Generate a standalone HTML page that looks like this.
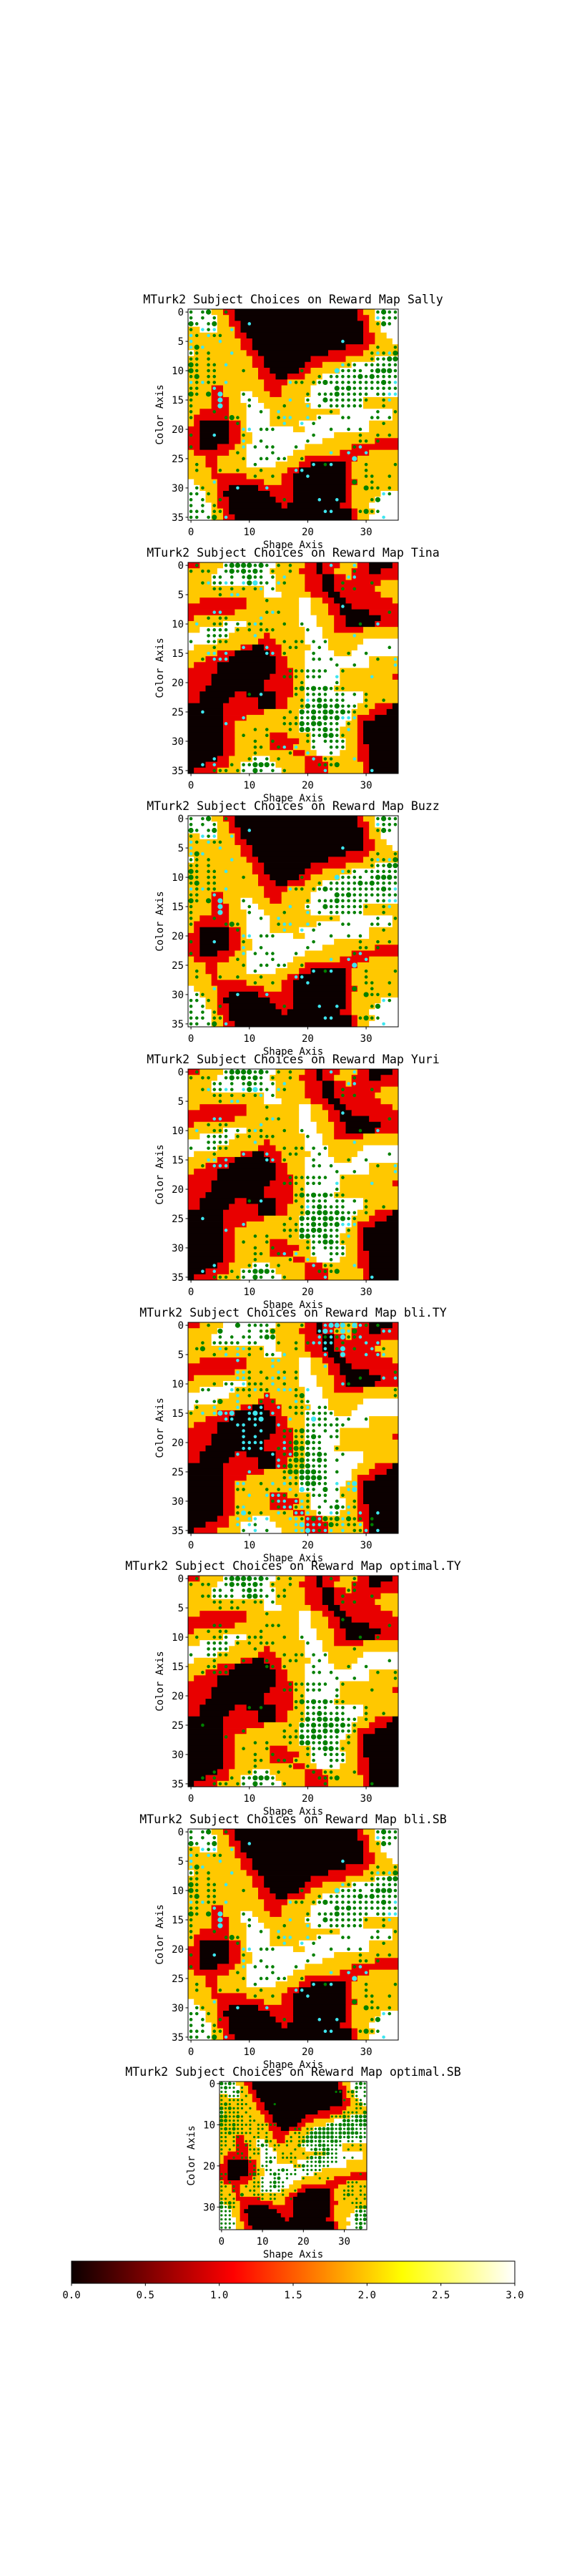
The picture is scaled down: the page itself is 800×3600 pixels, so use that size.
<!DOCTYPE html>
<html><head><meta charset="utf-8">
<style>
html,body{margin:0;padding:0;background:#fff;width:800px;height:3600px;overflow:hidden}
svg text{font-family:"DejaVu Sans Mono","Liberation Mono",monospace;fill:#000}
</style></head>
<body>
<svg id="fig" xmlns="http://www.w3.org/2000/svg" width="800" height="3600" viewBox="0 0 800 3600"></svg>
<script>
// ---------- data ----------
const mapA = ["W4O2R2K21R1O2W4","W5O2R1K21R2O1W4","W5O2R2K21R1O2W3","O2W3O3R1K21R1O2W3","O8R2K20R2O2W2","O9R2K19R2O3W1","O9R2K16R4O5","W1O9R2K12R6O6","O11R2K8R6O5W4","O11R2K7R3O5W8","O12R2K5R2O5W10","O12R3K2R3O3W13","O13R4O5W14","O4R2O7R3O5W15","O4R2O3W2O3R2O5W15","O4R3O2W3O8W10O6","O4R3O3W3O8W9O6","O2R5O3W4O12W9O1","O1R6O3W4O8W13O1","O1R1K5R2O1W4O5W12O5","R2K5R2O1W8O2W11O5","R2K5R2O2W14O11","R2K5R2O2W12O9R4","R2K3R3O2W10O8R8","O1R6O3W8O8R5O5","O3R2O5W7O3R9O7","O3R2O5W5O4R2K6R1O8","O4R1O12R2K8R1O8","O4R6O6R2K9R1O8","W1O4R8O3R2K9R2O7","W2O3R2K5R6K9R1O8","W3O2R1K8R4K9R1O5W3","W3O2R2K8R3K9R1O4W4","W4O1R2K9R1K9R2O3W5","W4O2R1K21R1O3W4","W4O2R2K20R1O2W5"];
const mapB = ["R2O4W9O5R2K1R3O3R2K4R1","O5W9O5R3K1R2O3R3K2R3","O4W11O5R3K2R2O1R8","O4W11O5R3K2R8O3","O13W2O5R3K2R7O4","O13W3O5R3K2R7O3","O2R8O5O4W2O2R2K2R8O1","R10O9W2O3R2K2R8","R8O11W2O3R2K5R5","R1O18W3O3R2K6R3","O6W4O9W3O3R2K5R4","O2W6O12W3O2R5O6","W7O6R1O6W3O13","W5O7R3O5W4O6W6","W1O8R2K2R3O5W3O5W7","O5R3K6R2O4W5O3W8","O3R4K8R2O3W11O5","O1R4K10R2O3W11O5","R5K10R3O2W6O10","R4K10R4O2W6O9R1","R4K9R5O2W6O10","R3K10R5O2W5O11","R2K6R2K5R3O2W10O6","R2K5R5K3R2O3W10O6","K6R6K3R2O3W9O3R3K1","K6R7O6W9O3R3K2","K6R4O9W9O1R3K4","K6R2O11W8O2R1K6","K6R2O11W7O3R1K6","K6R2O6R3O4W5O3R1K6","K6R2O6R5O2W6O2R1K6","K6R2O6R4O3W6O2R2K5","K6R2O10R2O2W4O3R2K5","K5R2O4W3O6R3O6R2K5","K3R4O2W6O5R4O6R1K5","K1R4O4W7O4R4O6R1K5"];
const dotsA = ["g.gG..g.........................gGgg","g.g.g...........................cggg","Gg.gG.....c.....................gGg.","g.cgc..c............................g","cg.cgg..............................g","c....c....................c.........g","cGc.............................g..g","gg.g...c.......................gcgcG","gg.g...........................gggGG","Gg.gg.c...................cgg.gggggg","Gg.gg....g.........g.....Cgggg.gGGGg","gG.gg.................g.gggggGgGgggg","cgcgg.c..........cgg.ggGgggggggggGgc","gg..c....................GgGgggggggg","Gg.G.C...g..........g.gggGggggg.ggcc","g....C....g......c..g..Gggggggg..gc.","g....C....g.....g...c.g.gggggg...g..","g...g.......g..c........g.......g..g","g.....gGg......gcc..c.g...gg...gg.g.","........g.......c..c.g...........g..",".........cc.ggg.........g..g.g......","g...c....g...........g.......g..g.g.",".........c..g.......g........gg.g...","g........c.g.gg...g.........gc......","........g.....g.........c..c..c.....",".........g..gg.gg..g........C.......",".g.........g.........c.gc.....g....g",".g...g..g...g.....cc..........g.....","...........g..g.....c.........gg..g.","....c.......................G..g....",".gg.....c....c................Ggg.g.","gg.g.............................cg.","g.g..g..........g.....c..c.....gG...","g.g.g...............................","ggg.gg.................cc....gGgg...","gg.gG.c..........................c.."];
const dotsB = [".g....gGGGGgGg.g.g......c...c.......","g.gg..gGgGgGg.g..g..........g.......","....gg.g.gGgg.g.c..........cc.......","..gcggcg.cGCgg.cg.........g....g....","....gg.g.g.gc.g...........g.g.......",".....g.cc...........................",".............g......................","..........................c.........","....cc.......gcg..................g.","...g.gg.....c.......................",".c..ggg.g.gcg...g..g.........g..c...","...gggg.g.g.ggg.....g...............","...gggg....c................c.......","g..gggg.........g.gg.g.g............","....g....c...c...gg...g...........g.","...cc.c......cc.g....g.....g..g.....","..g.ccc..............gg.g.......g..c",".........................g..g......c",".................ggggggg..g.........","................ggg.ggg..c.....c....","...................g.....g..........","..................gGgGgGggg.........","..........g.c.....g.gggg.gg.g.g.....","...................gcgGgggg...g..g..","...................gGgGGgGggg.g.....","..c..............g.GgGgGGgGgg.......",".........c......g.gggGgGgGccc.......","......c.........gggGgGGggg.g........","...........g.g...g.GGggGgg.c........",".........g...g......gggGGgg.........","...........g..g.....gg.gggg.........","...........gg..gc.c..g..ggg.........","...........g.....g..c...g...........","....c.....gg.g.g.....c.gg...c.......","..c.c..g.ggGGGg.......gggG..........","....ggg.gg.Gg.g.g......c.......c...."];
const dotsT = ["...g....G.gggg.g...g...cCCCgCcg.g...",".....G....g.ggG.......cCcgCcG....cc",".....g.g.gg.gGG.......cgcgCggc......","..g.ggggg.gg...g..g.gcccc.g...c.c...",".gG..cg.ccg.g.....g....c.gC.g..c.g..","....g.c.c.g..gg.c......c..C...c.cc..","........c.....cc....................","..............c........c............","........ccg.g..cg.g................g","........ccg..gcgc.g..........g...c.c","....g.gg.cggg.c.g.........cg........","..gg...cgggcgg.cccg.c..............g","........c.g..c....gG...............g",".g..gG..c...g.g...cgg...............",".g..c...c.c.c..c.gggc.gg............","g.c.cCcC..cCc.c...ggggggg...........","......cc..ccC....c..gCgg.g.g..g.....","........cc.c...c....ggggggg.........",".........c..c...gggGgg.g.g..........",".........c.c....g.gggGg.gg..........",".........cccc...cgGgGgg.............",".........cc.c..gcgGGggg..g..........","........c.....c.gcGgGgGg..g.........","...............c.gGGggGg.g..........","...............cgGgGGggg............","..........c.....gGGGGGgg.g..........","................gcgGGGGg............","........cc..g.c.cgggGGgg.c.cC.......","........gg...g.g.c.Cgg.G.g.cC.......","..........c..cccg.g.gggg..g.........","..............gcc.ccg..g.g..g.......","........gc.....gccgcg.g.gGgcg.......","........gCg.g..cg.ccc.g.cg.c.c..c...","........c.cc.c...ccgcGcGgGcGgg.g....","........c.cg......cCcccgGgcggc.g....",".........g.c.g....ccCcgcc.c.ggc.c..."];
const dotsDA = ["GgGg.............................gGg","gGgg.g...........................Ggg","gg.gGg......................gg.gGg.g","ggggg.g.........................gg.g","g.gggg........................g..gg.","gGg.ggg......g...................gGg","GgGggg.g.........................gg.","Ggggg.g.......................gggg.G","GGggGg.g...................gggGggGGG","GGgggg.gg.....................GGgGGG","GggGgggg.ggggg............gGgGGGGgGG","gGgGgg.g.gg.......gg.gggGGGGgGgGGggg","ggGggggg.g.g......gg.gGGGGGGgGGGGGgg","gg.gg...gg.g.....g.ggGGGGGGGgGgGggGg","gg.g..gg.g.Gg...gg.gGGGgGggGGg.gg.g.","gg.gg.gg.gGg.gg.g..GggggGGgggg..g.g.","g.g.g..ggg.g.g....g...gGgGGgg..g..g.","g...gg..gg.g...g.g..g..GgGGgg.......","...g.ggg...ggg.gggg..gGgGgggg.g.g...",".......g...gG....g...gggGgggg.......","........g.gg......ggGgggggg.........","........gg.gg.gGg.g.ggggg...........","gg.....gGg..gGg.ggg..g.g..........g.","g.......g.g..gG.g...g...g.g.........","g.g.....ggg.gGgg...............ggg..","gg.g..g.ggg.gGgg...............gg.gg","g..g...gg.ggg.gg..g...........ggg.g.","g.g..G..ggg.gg.g..............gGg.gg","gg.g.....gg.gg...g............g..g.g","GgGg............................ggg.","GgGg.............................gGG","ggg..............................gGg","ggg..............................GgG","ggg..............................GgG","gggg.............................gGg","ggg..............................gG."];
const plotNames = ["Sally","Tina","Buzz","Yuri","bli.TY","optimal.TY","bli.SB","optimal.SB"];
const plotMaps = ["A","B","A","B","B","B","A","A"];
const plotDots = ["A","B","A","B","T","B","A","DA"];
const yTicks = [0,5,10,15,20,25,30,35];
const yTicksSmall = [0,10,20,30];
const xTicks = [0,10,20,30];
const cbarTicks = [0,0.5,1.0,1.5,2.0,2.5,3.0];

// ---------- rendering ----------
const NS = "http://www.w3.org/2000/svg";
const svg = document.getElementById('fig');
const N = 36;
const valColor = {K:"#0b0000",R:"#e80000",O:"#ffc800",W:"#ffffff"};
function mk(tag, attrs, parent){const e=document.createElementNS(NS,tag);for(const k in attrs)e.setAttribute(k,attrs[k]);(parent||svg).appendChild(e);return e;}
function decode(rle){const out=[];const re=/([KROW])(\d+)/g;let m;while((m=re.exec(rle))){for(let i=0;i<+m[2];i++)out.push(m[1]);}while(out.length<N)out.push(out[out.length-1]);return out.slice(0,N);}
const maps={A:mapA,B:mapB};
const dots={A:dotsA,B:dotsB,T:dotsT,DA:dotsDA};

plotNames.forEach((name,p)=>{
  const small = p===7;
  const left = small?307:263, top = small?2909:432+354*p;
  const W = small?206:294, H = small?207:295;
  const cw=W/N, ch=H/N;
  const xs=c=>left+c*cw, ys=r=>top+r*ch;
  const g=mk('g',{});
  
  
  const t=mk('text',{x:left+W/2,y:top-8,'text-anchor':'middle','font-size':16.6},g);
  t.textContent='MTurk2 Subject Choices on Reward Map '+name;
  
  
  const rows=maps[plotMaps[p]];
  rows.forEach((rle,r)=>{
    const vals=decode(rle);
    let c=0;
    while(c<N){let e=c;while(e+1<N&&vals[e+1]===vals[c])e++;
      const rc=mk('rect',{x:xs(c),y:ys(r),width:(e-c+1)*cw+0.4,height:ch+0.4,fill:valColor[vals[c]]},g);
      
      
      c=e+1;}
  });
  const dg=dots[plotDots[p]];
  const sc=cw/8.17;
  dg.forEach((row,r)=>{for(let c=0;c<N&&c<row.length;c++){const ch_=row[c];if(ch_==='.')continue;
    let col='#008000',rad=2.3;
    if(ch_==='G')rad=3.6;
    if(ch_==='c'){col='#3ee6f0';}
    if(ch_==='C'){col='#3ee6f0';rad=3.6;}
    if(name==='optimal.TY'||name==='optimal.SB')col='#008000';
    const d=mk('circle',{cx:xs(c+0.5),cy:ys(r+0.5),r:rad*sc,fill:col},g);
    
    
  }});
  const fr=mk('rect',{x:left,y:top,width:W,height:H,fill:'none',stroke:'#000','stroke-width':1},g);
  
  
  xTicks.forEach(v=>{
    const x=xs(v+0.5);
    mk('line',{x1:x,y1:top+H,x2:x,y2:top+H+3.5,stroke:'#000'},g);
    const tl=mk('text',{x:x,y:top+H+21,'text-anchor':'middle','font-size':14},g);
    tl.textContent=String(v);
    
    
  });
  (small?yTicksSmall:yTicks).forEach(v=>{
    const y=ys(v+0.5);
    mk('line',{x1:left-3.5,y1:y,x2:left,y2:y,stroke:'#000'},g);
    const tl=mk('text',{x:left-6,y:y+5,'text-anchor':'end','font-size':14},g);
    tl.textContent=String(v);
    
    
  });
  const xl=mk('text',{x:left+W/2,y:top+H+39,'text-anchor':'middle','font-size':14},g);
  xl.textContent='Shape Axis';
  
  
  const yl=mk('text',{x:left-40,y:top+H/2,'text-anchor':'middle','font-size':14,transform:`rotate(-90 ${left-40} ${top+H/2})`,dy:5},g);
  yl.textContent='Color Axis';
  
  
});

// colorbar
const cb={l:100,t:3160,w:620,h:31,min:0,max:3};
const defs=mk('defs',{});
const grad=mk('linearGradient',{id:'hot',x1:0,x2:1,y1:0,y2:0},defs);
[[0,'#0b0000'],[0.365,'#ff0000'],[0.746,'#ffff00'],[1,'#ffffff']].forEach(s=>mk('stop',{offset:s[0],'stop-color':s[1]},grad));
const cbr=mk('rect',{x:cb.l,y:cb.t,width:cb.w,height:cb.h,fill:'url(#hot)',stroke:'#000','stroke-width':1});


const cx=v=>cb.l+(v-cb.min)/(cb.max-cb.min)*cb.w;
cbarTicks.forEach(v=>{
  mk('line',{x1:cx(v),y1:cb.t+cb.h,x2:cx(v),y2:cb.t+cb.h+3.5,stroke:'#000'});
  const tl=mk('text',{x:cx(v),y:cb.t+cb.h+21,'text-anchor':'middle','font-size':14});
  tl.textContent=v.toFixed(1);
  
  
});
</script>
</body></html>
